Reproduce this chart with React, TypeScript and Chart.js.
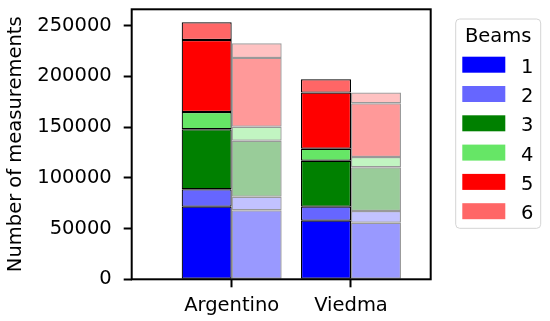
import React, { useEffect, useRef } from 'react';
import { Chart, registerables } from 'chart.js';

Chart.register(...registerables);

const categories = ['Argentino', 'Viedma'];
const beamLabels = ['1', '2', '3', '4', '5', '6'];
const argentinoSolid = [71600, 17100, 59200, 17000, 71000, 17500];
const argentinoFaded = [68000, 13400, 55200, 13800, 67800, 14400];
const viedmaSolid = [57800, 13800, 45300, 11800, 55300, 13200];
const viedmaFaded = [55800, 11500, 43100, 10200, 52900, 10500];
const yTicks = [0, 50000, 100000, 150000, 200000, 250000];
const beamColors = [
  [0, 0, 255],
  [102, 102, 255],
  [0, 128, 0],
  [102, 230, 102],
  [255, 0, 0],
  [255, 102, 102],
];

const FONT = '"DejaVu Sans"';
const FS = 19.5;

const rgba = (c: number[], a: number) => `rgba(${c[0]},${c[1]},${c[2]},${a})`;

const framePlugin = {
  id: 'frame',
  afterDatasetsDraw(chart: any) {
    const { ctx, chartArea: a } = chart;
    ctx.save();
    ctx.strokeStyle = '#000';
    ctx.lineWidth = 2;
    ctx.strokeRect(a.left, a.top, a.right - a.left, a.bottom - a.top);
    ctx.restore();
  },
};

const legendPlugin = {
  id: 'beamLegend',
  afterDraw(chart: any) {
    const { ctx, chartArea: a } = chart;
    const x0 = a.right + 25;
    const y0 = a.top + 9.7;
    const w = 85;
    const h = 209.3;
    ctx.save();
    ctx.beginPath();
    (ctx as any).roundRect(x0, y0, w, h, 4);
    ctx.fillStyle = 'rgba(255,255,255,0.8)';
    ctx.fill();
    ctx.strokeStyle = '#d4d4d4';
    ctx.lineWidth = 1;
    ctx.stroke();
    ctx.fillStyle = '#000';
    ctx.font = `${FS}px ${FONT}`;
    ctx.textAlign = 'center';
    ctx.textBaseline = 'alphabetic';
    ctx.fillText('Beams', x0 + w / 2, y0 + 23.3);
    ctx.textAlign = 'left';
    for (let i = 0; i < beamLabels.length; i++) {
      const ds = chart.data.datasets[i];
      ctx.fillStyle = ds.backgroundColor;
      ctx.fillRect(x0 + 6.6, y0 + 37.7 + i * 29.3, 43, 16);
      ctx.fillStyle = '#000';
      ctx.fillText(ds.label, x0 + 65.3, y0 + 53.7 + i * 29.3);
    }
    ctx.restore();
  },
};

export default function App() {
  const ref = useRef<HTMLCanvasElement | null>(null);

  useEffect(() => {
    if (!ref.current) return;
    const datasets: any[] = [];
    beamLabels.forEach((b, i) => {
      datasets.push({
        label: b,
        stack: 'solid',
        data: [
          { x: 0, y: argentinoSolid[i] },
          { x: 1, y: viedmaSolid[i] },
        ],
        backgroundColor: rgba(beamColors[i], 1),
        borderColor: 'rgba(0,0,0,1)',
        borderWidth: 1.2,
        borderSkipped: false,
      });
    });
    beamLabels.forEach((b, i) => {
      datasets.push({
        label: b + ' ',
        stack: 'faded',
        data: [
          { x: 0, y: argentinoFaded[i] },
          { x: 1, y: viedmaFaded[i] },
        ],
        backgroundColor: rgba(beamColors[i], 0.4),
        borderColor: 'rgba(0,0,0,0.4)',
        borderWidth: 1.2,
        borderSkipped: false,
      });
    });

    const chart = new Chart(ref.current, {
      type: 'bar',
      data: { datasets },
      plugins: [framePlugin, legendPlugin],
      options: {
        responsive: false,
        animation: false,
        events: [],
        devicePixelRatio: 1,
        layout: { padding: { top: 9.3, right: 119.3, bottom: 0, left: 0 } },
        categoryPercentage: 0.838,
        barPercentage: 1,
        plugins: {
          legend: { display: false },
          tooltip: { enabled: false },
        },
        scales: {
          x: {
            type: 'linear',
            min: -0.838,
            max: 1.668,
            offset: false,
            grid: {
              offset: false,
              display: true,
              drawOnChartArea: false,
              drawTicks: true,
              tickLength: 8,
              tickWidth: 2,
              tickColor: '#000',
            },
            border: { display: false },
            ticks: {
              padding: 7,
              color: '#000',
              font: { family: FONT, size: FS },
              maxRotation: 0,
              callback: (v: any) => categories[v] ?? '',
            },
            afterBuildTicks: (s: any) => {
              s.ticks = categories.map((_, i) => ({ value: i }));
            },
            afterFit: (s: any) => {
              s.height = 41.7;
              s.paddingLeft = 0;
              s.paddingRight = 0;
            },
          },
          y: {
            type: 'linear',
            stacked: true,
            min: 0,
            max: 266100,
            grid: {
              display: true,
              drawOnChartArea: false,
              drawTicks: true,
              tickLength: 8,
              tickWidth: 2,
              tickColor: '#000',
            },
            border: { display: false },
            ticks: {
              padding: 12,
              color: '#000',
              font: { family: FONT, size: FS, lineHeight: 0.8 },
              callback: (v: any) => String(v),
            },
            afterBuildTicks: (s: any) => {
              s.ticks = yTicks.map((v) => ({ value: v }));
            },
            title: {
              display: true,
              text: 'Number of measurements',
              color: '#000',
              font: { family: FONT, size: FS, lineHeight: 1.2 },
              padding: { top: 4, bottom: 0 },
            },
            afterFit: (s: any) => {
              s.width = 131.7;
              s.paddingTop = 0;
              s.paddingBottom = 0;
            },
          },
        },
      } as any,
    });
    return () => chart.destroy();
  }, []);

  return (
    <div style={{ position: 'absolute', left: 0, top: 0, width: 550, height: 321 }}>
      <canvas ref={ref} width={550} height={321} style={{ display: 'block', width: 550, height: 321 }} />
    </div>
  );
}
